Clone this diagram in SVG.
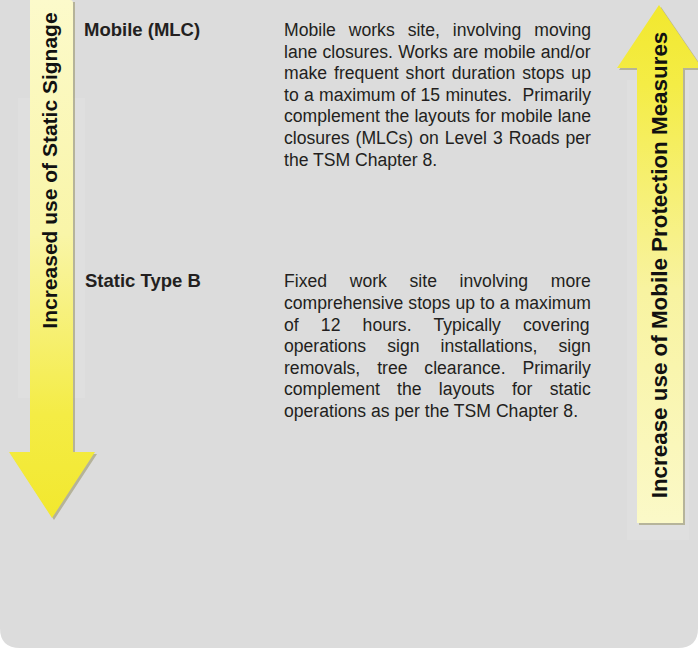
<svg xmlns="http://www.w3.org/2000/svg" width="698" height="648" viewBox="0 0 698 648">
<defs>
<linearGradient id="gDown" x1="0" y1="0" x2="0" y2="1">
<stop offset="0" stop-color="#fcfacb"/>
<stop offset="0.45" stop-color="#f9f5a8"/>
<stop offset="0.8" stop-color="#f4ec45"/>
<stop offset="1" stop-color="#f2e82e"/>
</linearGradient>
<linearGradient id="gUp" x1="0" y1="1" x2="0" y2="0">
<stop offset="0" stop-color="#fbf9c8"/>
<stop offset="0.45" stop-color="#f8f3a0"/>
<stop offset="0.85" stop-color="#f4ec45"/>
<stop offset="1" stop-color="#f2e82e"/>
</linearGradient>
<style>
.head{font-family:"Liberation Sans",Arial,sans-serif;font-weight:bold;font-size:18.5px;fill:#231f20}
.body{font-family:"Liberation Sans",Arial,sans-serif;font-size:17.6px;fill:#231f20}
.arr{font-family:"Liberation Sans",Arial,sans-serif;font-weight:bold;fill:#111}
.shadow{fill:#8e8a55;opacity:0.5}
.glow{fill:#ffffff;opacity:0.09}
</style>
</defs>
<path d="M0,0 H698 V628 Q698,648 678,648 H20 Q0,648 0,628 Z" fill="#dcdcdc"/>
<g id="arrow-static">
<rect class="glow" x="18" y="98" width="67" height="300"/>
<path class="shadow" d="M32,2 H75 V454 H97 L54,520 L11,454 H32 Z"/>
<path d="M30,0 H70 Q73,0 73,3 V452 H95 L52,518 L9,452 H30 Z" fill="url(#gDown)"/>
<text class="arr" font-size="21" transform="translate(57,170.5) rotate(-90)" text-anchor="middle">Increased use of Static Signage</text>
</g>
<g id="arrow-mobile">
<rect class="glow" x="627" y="80" width="62" height="460"/>
<path class="shadow" d="M661,7 L704,70 H685 V525 H639 V70 H619 Z"/>
<path d="M659,5 L702,68 H683 V523 H637 V68 H617 Z" fill="url(#gUp)"/>
<text class="arr" font-size="22.4" transform="translate(667,265) rotate(-90)" text-anchor="middle">Increase use of Mobile Protection Measures</text>
</g>
<g id="mobile-mlc">
<text class="head" x="84" y="36">Mobile (MLC)</text>
<text class="body" x="284" y="36" word-spacing="8.05">Mobile works site, involving moving</text>
<text class="body" x="284" y="57.6" word-spacing="0.37">lane closures. Works are mobile and/or</text>
<text class="body" x="284" y="79.2" word-spacing="2.12">make frequent short duration stops up</text>
<text class="body" x="284" y="100.8" word-spacing="0.41" xml:space="preserve">to a maximum of 15 minutes.  Primarily</text>
<text class="body" x="284" y="122.4" word-spacing="0.17">complement the layouts for mobile lane</text>
<text class="body" x="284" y="144" word-spacing="1.13">closures (MLCs) on Level 3 Roads per</text>
<text class="body" x="284" y="165.6">the TSM Chapter 8.</text>
</g>
<g id="static-type-b">
<text class="head" x="85" y="287.3">Static Type B</text>
<text class="body" x="284" y="287.3" word-spacing="17.8">Fixed work site involving more</text>
<text class="body" x="284" y="308.9" word-spacing="0.17">comprehensive stops up to a maximum</text>
<text class="body" x="284" y="330.5" word-spacing="17.3">of 12 hours. Typically covering</text>
<text class="body" x="284" y="352.1" word-spacing="16.2">operations sign installations, sign</text>
<text class="body" x="284" y="373.7" word-spacing="12.0">removals, tree clearance. Primarily</text>
<text class="body" x="284" y="395.3" word-spacing="12.4">complement the layouts for static</text>
<text class="body" x="284" y="416.9">operations as per the TSM Chapter 8.</text>
</g>
<g id="connectors"/>
</svg>
